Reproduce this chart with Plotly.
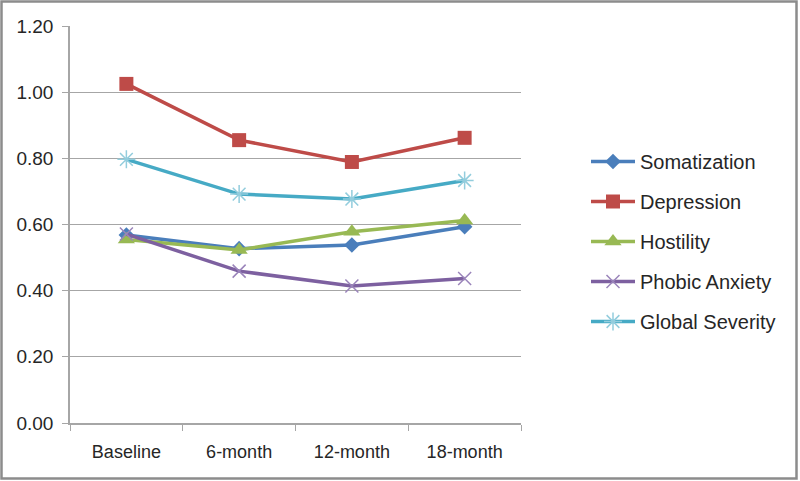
import plotly.graph_objects as go

categories = ["Baseline", "6-month", "12-month", "18-month"]
somatization = [0.568, 0.527, 0.538, 0.593]
depression = [1.025, 0.855, 0.789, 0.862]
hostility = [0.555, 0.523, 0.578, 0.612]
phobic_anxiety = [0.571, 0.459, 0.414, 0.437]
global_severity = [0.797, 0.692, 0.677, 0.733]

series = [
    ("Somatization", somatization, "#4A7EBB", dict(symbol="diamond", size=12, color="#4A7EBB")),
    ("Depression", depression, "#BE4B48", dict(symbol="square", size=14, color="#BE4B48")),
    ("Hostility", hostility, "#98B954", dict(symbol="triangle-up", size=15, color="#98B954")),
    ("Phobic Anxiety", phobic_anxiety, "#7D60A0",
     dict(symbol="x-thin", size=13, color="#9A84BA", line=dict(color="#9A84BA", width=1.5))),
    ("Global Severity", global_severity, "#46AAC5",
     dict(symbol="asterisk", size=15, color="#93CDDD", line=dict(color="#93CDDD", width=1.5))),
]

fig = go.Figure()
for i, (name, vals, col, mk) in enumerate(series):
    fig.add_trace(go.Scatter(
        x=categories, y=vals, name=name, mode="lines+markers",
        line=dict(color=col, width=3.5), marker=mk, legendgroup=f"g{i}",
    ))

font = "Liberation Sans"
L, R, T, B = 70, 521, 26, 423
pw, ph = R - L, B - T
fig.update_layout(
    width=800, height=481,
    margin=dict(l=L, r=800 - R, t=T, b=481 - B),
    paper_bgcolor="white", plot_bgcolor="white",
    font=dict(family=font, size=18, color="#262626"),
    legend=dict(x=(586 - L) / pw, y=1 - (142 - T) / ph, xanchor="left", yanchor="top",
                tracegroupgap=11, font=dict(size=20, color="#262626"),
                itemwidth=44),
    showlegend=True,
    shapes=[dict(type="rect", xref="paper", yref="paper",
                 x0=(1.5 - L) / pw, x1=(796.5 - L) / pw,
                 y0=(B - 478.5) / ph, y1=(B - 1.5) / ph,
                 line=dict(color="#8C8C8C", width=2.5))],
)
fig.update_xaxes(
    type="category", range=[-0.5, 3.5], tickson="boundaries",
    ticks="outside", ticklen=6, tickcolor="#A6A6A6",
    showline=True, linecolor="#A6A6A6", linewidth=1.5, showgrid=False,
    tickfont=dict(size=18), ticklabelstandoff=12,
)
fig.update_yaxes(
    range=[0, 1.2], dtick=0.2, tickformat=".2f",
    ticks="outside", ticklen=6, tickcolor="#A6A6A6",
    showline=True, linecolor="#A6A6A6", linewidth=1.5,
    showgrid=True, gridcolor="#A6A6A6", gridwidth=1.2, zeroline=False,
    tickfont=dict(size=19), ticklabelstandoff=5,
)
fig.write_html("out.html", config={"displayModeBar": False},
               post_script="document.body.style.margin='0';")
